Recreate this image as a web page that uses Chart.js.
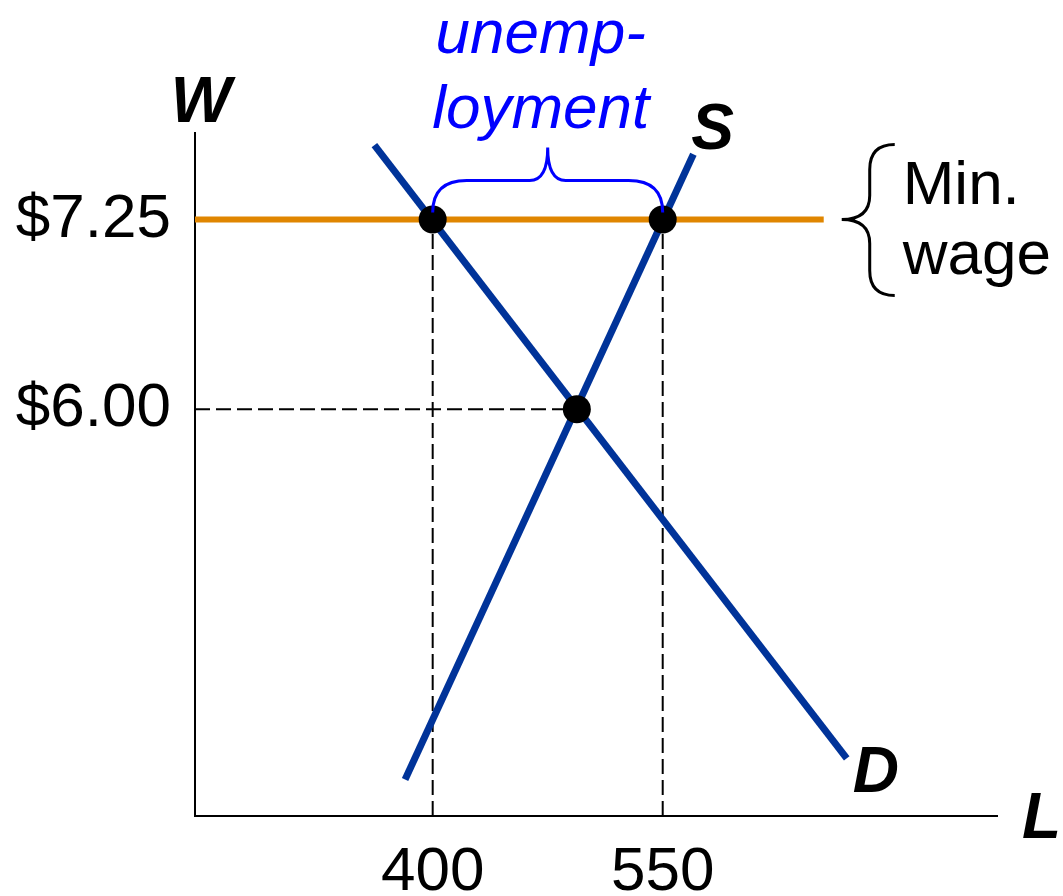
<!DOCTYPE html>
<html>
<head>
<meta charset="utf-8">
<script src="https://cdn.jsdelivr.net/npm/chart.js@4"></script>
<style>
  body { margin: 0; background: #fff; }
  #wrap { width: 1063px; height: 896px; }
</style>
</head>
<body>
<div id="wrap"><canvas id="labour"></canvas></div>
<script>
// values
var laborTicks = [400, 550];
var wageTicks = [6.00, 7.25];
var demandL = [362, 670];
var demandW = [7.74, 3.70];
var supplyL = [382, 570];
var supplyW = [3.56, 7.68];
var minWageL = [245, 655];
var minWageW = [7.25, 7.25];
var dotL = [400, 550, 494];
var dotW = [7.25, 7.25, 6.00];
var xMin = 245, xMax = 768;
var yMin = 3.32, yMax = 7.82;

var FONT = '"Liberation Sans", Arial, sans-serif';

function pts(xs, ys) {
  return xs.map(function (v, i) { return { x: v, y: ys[i] }; });
}

function dashed(xs, ys) {
  return {
    data: pts(xs, ys), showLine: true, borderColor: '#000', borderWidth: 2,
    borderDash: [15, 6], pointRadius: 0, fill: false, order: 4
  };
}

var annotate = {
  id: 'annotate',
  afterDatasetsDraw: function (chart) {
    var ctx = chart.ctx, x = chart.scales.x, y = chart.scales.y;
    var y725 = y.getPixelForValue(wageTicks[1]);
    var xa = x.getPixelForValue(laborTicks[0]);
    var xb = x.getPixelForValue(laborTicks[1]);
    var mid = (xa + xb) / 2;
    ctx.save();

    // unemployment brace
    var yh = y725 - 39, tip = y725 - 72, yb = y725 - 7;
    ctx.strokeStyle = '#0000ff';
    ctx.lineWidth = 3;
    ctx.beginPath();
    ctx.moveTo(xa, yb);
    ctx.quadraticCurveTo(xa, yh, xa + 34, yh);
    ctx.lineTo(mid - 18, yh);
    ctx.quadraticCurveTo(mid, yh, mid, tip);
    ctx.quadraticCurveTo(mid, yh, mid + 18, yh);
    ctx.lineTo(xb - 34, yh);
    ctx.quadraticCurveTo(xb, yh, xb, yb);
    ctx.stroke();

    ctx.fillStyle = '#0000ff';
    ctx.font = 'italic 62px ' + FONT;
    ctx.textAlign = 'center';
    ctx.textBaseline = 'alphabetic';
    ctx.fillText('unemp-', mid - 7, y725 - 167);
    ctx.fillText('loyment', mid - 7, y725 - 92);

    // min wage brace
    var end = x.getPixelForValue(minWageL[1]);
    ctx.strokeStyle = '#000';
    ctx.beginPath();
    ctx.moveTo(end + 71, y725 - 75);
    ctx.quadraticCurveTo(end + 46, y725 - 75, end + 46, y725 - 50);
    ctx.lineTo(end + 46, y725 - 24);
    ctx.quadraticCurveTo(end + 46, y725, end + 18, y725);
    ctx.quadraticCurveTo(end + 46, y725, end + 46, y725 + 24);
    ctx.lineTo(end + 46, y725 + 51);
    ctx.quadraticCurveTo(end + 46, y725 + 76, end + 71, y725 + 76);
    ctx.stroke();

    ctx.fillStyle = '#000';
    ctx.font = '62px ' + FONT;
    ctx.textAlign = 'left';
    ctx.fillText('Min.', end + 79, y725 - 16);
    ctx.fillText('wage', end + 79, y725 + 54);

    // curve and axis letters
    ctx.font = 'italic bold 64px ' + FONT;
    ctx.textAlign = 'center';
    ctx.fillText('W', x.left + 6, y.top - 11);
    ctx.textAlign = 'left';
    ctx.fillText('S', x.getPixelForValue(supplyL[1]) - 2, y.getPixelForValue(supplyW[1]) - 5);
    ctx.fillText('D', x.getPixelForValue(demandL[1]) + 6, y.getPixelForValue(demandW[1]) + 34);
    ctx.fillText('L', x.right + 25, y.bottom + 22);
    ctx.restore();
  }
};

new Chart(document.getElementById('labour').getContext('2d'), {
  type: 'scatter',
  data: {
    datasets: [
      dashed([laborTicks[0], laborTicks[0]], [yMin, wageTicks[1]]),
      dashed([laborTicks[1], laborTicks[1]], [yMin, wageTicks[1]]),
      dashed([xMin, dotL[2]], [wageTicks[0], wageTicks[0]]),
      {
        label: 'D', data: pts(demandL, demandW), showLine: true, order: 3,
        borderColor: '#003399', borderWidth: 7, pointRadius: 0, borderCapStyle: 'butt'
      },
      {
        label: 'S', data: pts(supplyL, supplyW), showLine: true, order: 3,
        borderColor: '#003399', borderWidth: 7, pointRadius: 0, borderCapStyle: 'butt'
      },
      {
        label: 'Min. wage', data: pts(minWageL, minWageW), showLine: true, order: 2,
        borderColor: '#e08600', borderWidth: 6, pointRadius: 0
      },
      {
        label: 'points', data: pts(dotL, dotW), showLine: false, order: 1,
        pointRadius: 14, pointBackgroundColor: '#000', pointBorderColor: '#000', pointBorderWidth: 0
      }
    ]
  },
  options: {
    responsive: true,
    maintainAspectRatio: false,
    animation: false,
    clip: false,
    layout: { padding: { top: 133, right: 66, left: 0, bottom: 0 } },
    plugins: { legend: { display: false }, tooltip: { enabled: false } },
    scales: {
      x: {
        type: 'linear', min: xMin, max: xMax,
        grid: { display: false },
        border: { display: true, color: '#000', width: 2 },
        afterBuildTicks: function (s) { s.ticks = laborTicks.map(function (v) { return { value: v }; }); },
        afterFit: function (s) { s.height = 80; },
        ticks: { color: '#000', padding: 12, font: { size: 62, family: FONT }, callback: function (v) { return String(v); } }
      },
      y: {
        type: 'linear', min: yMin, max: yMax,
        grid: { display: false },
        border: { display: true, color: '#000', width: 2 },
        afterBuildTicks: function (s) { s.ticks = wageTicks.map(function (v) { return { value: v }; }); },
        afterFit: function (s) { s.width = 195; },
        ticks: { color: '#000', padding: 16, font: { size: 62, family: FONT }, callback: function (v) { return '$' + v.toFixed(2); } }
      }
    }
  },
  plugins: [annotate]
});
</script>
</body>
</html>
